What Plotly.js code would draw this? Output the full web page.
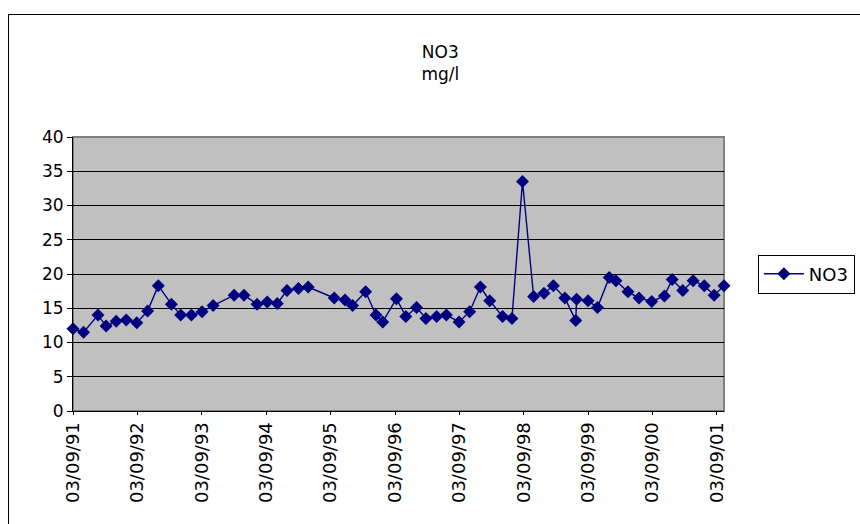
<!DOCTYPE html>
<html>
<head>
<meta charset="utf-8">
<script src="https://cdn.plot.ly/plotly-3.0.1.min.js"></script>
<style>
  html, body { margin: 0; padding: 0; background: #fff; }
  #wrap { position: relative; width: 860px; height: 524px; overflow: hidden; }
  #chart { width: 860px; height: 524px; }
  #frame { position: absolute; left: 8px; top: 14px; width: 880px; height: 540px; border: 1px solid #000; pointer-events: none; }
</style>
</head>
<body>
<div id="wrap">
  <div id="chart"></div>
  <div id="frame"></div>
</div>
<script>
// Sampling dates
const dates = [
  '1991-09-03','1991-11-02','1992-01-23','1992-03-09','1992-05-05','1992-07-01','1992-08-30',
  '1992-10-30','1992-12-30','1993-03-14','1993-05-06','1993-07-06','1993-09-04','1993-11-06',
  '1994-03-05','1994-04-30','1994-07-13','1994-09-09','1994-11-05','1994-12-30','1995-03-05',
  '1995-04-29','1995-09-24','1995-11-24','1996-01-06','1996-03-20','1996-05-18','1996-06-25',
  '1996-09-11','1996-11-03','1997-01-03','1997-02-25','1997-04-27','1997-06-21','1997-09-01',
  '1997-10-31','1997-12-31','1998-02-22','1998-05-06','1998-06-28','1998-08-27','1998-10-29',
  '1998-12-27','1999-02-18','1999-04-24','1999-06-25','1999-06-30','1999-09-03','1999-10-26',
  '2000-01-01','2000-02-08','2000-04-16','2000-06-18','2000-08-29','2000-11-09','2000-12-23',
  '2001-02-21','2001-04-21','2001-06-23','2001-08-18','2001-10-13'
];
// NO3 values, mg/l
const no3 = [
  12.0, 11.5, 14.0, 12.4, 13.1, 13.3, 12.9,
  14.6, 18.3, 15.6, 14.0, 14.0, 14.5, 15.4,
  16.9, 16.9, 15.6, 15.9, 15.7, 17.6, 17.9,
  18.1, 16.5, 16.2, 15.4, 17.4, 14.0, 13.0,
  16.4, 13.8, 15.1, 13.5, 13.8, 14.0, 13.0,
  14.5, 18.1, 16.1, 13.8, 13.5, 33.5, 16.7,
  17.2, 18.3, 16.5, 13.2, 16.3, 16.1, 15.1,
  19.5, 19.0, 17.4, 16.5, 16.0, 16.8, 19.2,
  17.6, 19.0, 18.3, 16.9, 18.3
];
const tickDates = ['1991-09-03','1992-09-03','1993-09-03','1994-09-03','1995-09-03','1996-09-03',
                   '1997-09-03','1998-09-03','1999-09-03','2000-09-03','2001-09-03'];
const tickLabels = ['03/09/91','03/09/92','03/09/93','03/09/94','03/09/95','03/09/96',
                    '03/09/97','03/09/98','03/09/99','03/09/00','03/09/01'];
const seriesName = 'NO3';

const FONT = 'DejaVu Sans, Verdana, sans-serif';

const trace = {
  x: dates, y: no3, name: seriesName, type: 'scatter', mode: 'lines+markers',
  line: { color: '#000080', width: 1.4 },
  marker: { symbol: 'diamond', size: 10, color: '#000080', line: { color: '#000080', width: 0 } },
  cliponaxis: false
};

const layout = {
  width: 860, height: 524,
  margin: { l: 73, r: 136, t: 137, b: 113, pad: 0, autoexpand: false },
  paper_bgcolor: '#ffffff',
  plot_bgcolor: '#c0c0c0',
  font: { family: FONT, size: 16, color: '#000' },
  title: {
    text: 'NO3<br>mg/l',
    font: { family: FONT, size: 17, color: '#000' },
    x: 0.512, xanchor: 'center', xref: 'container',
    y: 0.89, yanchor: 'middle', yref: 'container'
  },
  xaxis: {
    type: 'date',
    range: ['1991-09-03', '2001-10-13'],
    tickmode: 'array', tickvals: tickDates, ticktext: tickLabels,
    tickangle: -90,
    showgrid: false, zeroline: false,
    showline: true, linecolor: '#000', linewidth: 1,
    ticks: 'outside', ticklen: 3, tickcolor: '#000',
    tickfont: { family: FONT, size: 18, color: '#000' },
    automargin: false
  },
  yaxis: {
    range: [0, 40], tickmode: 'array', tickvals: [0,5,10,15,20,25,30,35,40],
    showgrid: true, gridcolor: '#000', gridwidth: 1,
    zeroline: false,
    showline: true, linecolor: '#000', linewidth: 1,
    ticks: 'outside', ticklen: 5, tickcolor: '#000',
    tickfont: { family: FONT, size: 17, color: '#000' },
    automargin: false
  },
  shapes: [{
    type: 'rect', xref: 'paper', yref: 'paper', x0: 0, x1: 1, y0: 0, y1: 1,
    line: { color: '#808080', width: 2 }, layer: 'below'
  }],
  showlegend: true,
  legend: {
    x: 1.052, xanchor: 'left', y: 0.5, yanchor: 'middle',
    bgcolor: '#ffffff', bordercolor: '#000', borderwidth: 1,
    font: { family: FONT, size: 18, color: '#000' },
    itemwidth: 40
  }
};

Plotly.newPlot('chart', [trace], layout, { displayModeBar: false, staticPlot: true });
</script>
</body>
</html>
